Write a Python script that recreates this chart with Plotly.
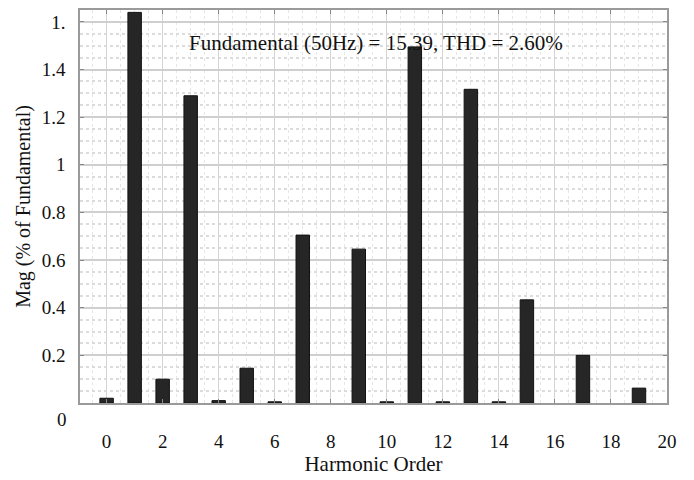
import plotly.graph_objects as go

harmonics = list(range(20))
magnitudes = [0.02, 1.64, 0.10, 1.29, 0.01, 0.146, 0.005, 0.705, 0.0, 0.646,
              0.005, 1.495, 0.005, 1.317, 0.005, 0.433, 0.0, 0.20, 0.0, 0.0625]
y_tickvals = [0.2, 0.4, 0.6, 0.8, 1.0, 1.2, 1.4, 1.6]
y_ticktext = ["0.2", "0.4", "0.6", "0.8", "1", "1.2", "1.4", "1."]
x_tickvals = [0, 2, 4, 6, 8, 10, 12, 14, 16, 18, 20]
title_text = "Fundamental (50Hz) = 15.39, THD = 2.60%"

serif = "Liberation Serif, Times New Roman, serif"

fig = go.Figure()
fig.add_trace(go.Bar(
    x=harmonics, y=magnitudes, width=0.48,
    marker=dict(color="#262626",
                line=dict(color="#111111", width=[1 if v > 0 else 0 for v in magnitudes])),
))

pw, ph = 694 - 80 - 27, 480 - 8 - 76
fig.update_layout(
    width=694, height=480,
    margin=dict(l=80, r=27, t=8, b=76),
    paper_bgcolor="white", plot_bgcolor="white",
    showlegend=False,
    font=dict(family=serif, size=19, color="#111111"),
)
fig.add_annotation(text=title_text, x=(376 - 80) / pw, y=(404 - 27) / ph,
                   xref="paper", yref="paper", showarrow=False,
                   font=dict(family=serif, size=21, color="#111111"))
fig.add_annotation(text="0", x=(62 - 80) / pw, y=(404 - 421) / ph, xref="paper", yref="paper",
                   showarrow=False, xanchor="center", yanchor="middle",
                   font=dict(family=serif, size=19, color="#111111"))

fig.update_xaxes(
    range=[-0.95, 20], tickvals=x_tickvals,
    showgrid=True, gridcolor="#d4d4d4", gridwidth=1,
    minor=dict(dtick=0.5, showgrid=True, gridcolor="#e6e6e6", griddash="dot"),
    showline=True, linecolor="#9a9a9a", linewidth=1.5, mirror="ticks",
    ticks="inside", ticklen=4, tickcolor="#888888",
    ticklabelstandoff=20, zeroline=False,
    title=dict(text="Harmonic Order", font=dict(family=serif, size=21), standoff=6),
)
fig.update_yaxes(
    range=[0, 1.65], tickvals=y_tickvals, ticktext=y_ticktext,
    showgrid=True, gridcolor="#cfcfcf", gridwidth=1.5,
    minor=dict(dtick=0.05, showgrid=True, gridcolor="#dcdcdc", griddash="dot"),
    showline=True, linecolor="#9a9a9a", linewidth=1.5, mirror="ticks",
    ticks="inside", ticklen=4, tickcolor="#888888",
    ticklabelstandoff=9, zeroline=False,
    title=dict(text="Mag (% of Fundamental)", font=dict(family=serif, size=20), standoff=6),
)

fig.write_html("out.html")
